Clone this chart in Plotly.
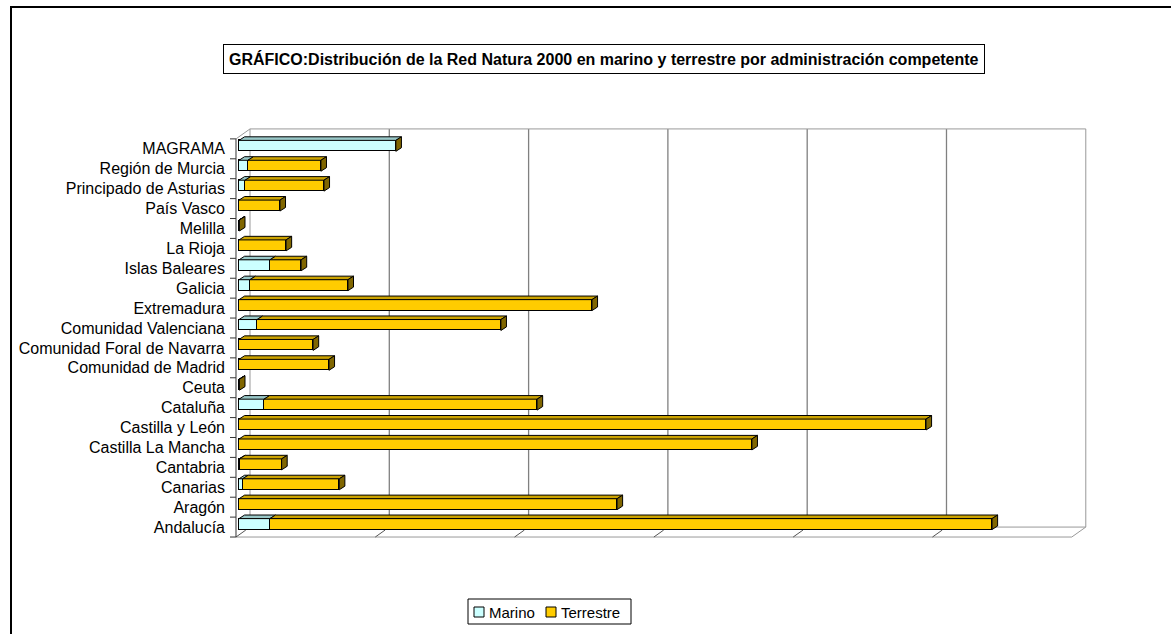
import plotly.graph_objects as go

# ---------------- data (hectares) ----------------
categories = ["Andalucía", "Aragón", "Canarias", "Cantabria", "Castilla La Mancha",
              "Castilla y León", "Cataluña", "Ceuta", "Comunidad de Madrid",
              "Comunidad Foral de Navarra", "Comunidad Valenciana", "Extremadura",
              "Galicia", "Islas Baleares", "La Rioja", "Melilla", "País Vasco",
              "Principado de Asturias", "Región de Murcia", "MAGRAMA"]
marino = [111000, 0, 13000, 2000, 0, 0, 90000, 500, 0, 0,
          65000, 0, 39000, 111000, 0, 500, 0, 22000, 32000, 563000]
terrestre = [2592000, 1357000, 347000, 151000, 1841000, 2466000, 980000, 1000, 323000, 266000,
             875000, 1267000, 352000, 112000, 169000, 1000, 147000, 283000, 262000, 0]
series_names = ["Marino", "Terrestre"]
title_text = "GRÁFICO:Distribución de la Red Natura 2000 en marino y terrestre por administración competente"

# ---------------- style / geometry ----------------
W, H = 1171, 634
ML, MR, MT, MB = 230, 69, 115, 5
PW, PH = W - ML - MR, H - MT - MB
PX_PER_UNIT = 19.907
Y_TOP = 20.55
XR = [-32300, 3097700]
YR = [Y_TOP - PH / PX_PER_UNIT, Y_TOP]
STEP = 500000
NSTEP = 6
FRONT_X, BACK_X = -10800, 39500
FY0, FY1 = -0.65, 19.35
BY0, BY1 = FY0 + 0.5, FY1 + 0.5
BAR_W = 0.55
DX, DY = 20000, 0.18
FONT = "Arial, Liberation Sans, sans-serif"
C_MAR, C_TER = "#CCFFFF", "#FFCC00"
C_MAR_TOP, C_TER_TOP, C_SIDE = "#99C8C8", "#CCA300", "#806600"
GRID = "#808080"
FRAME = "#999999"
series_colors = [C_MAR, C_TER]


def px_to_paper_x(px):
    return (px - ML) / PW


def px_to_paper_y(py):
    return (H - MB - py) / PH


idx = list(range(len(categories)))

fig = go.Figure()
fig.add_trace(go.Bar(y=idx, x=marino, orientation="h", name=series_names[0], width=BAR_W,
                     marker=dict(color=C_MAR, line=dict(color="black", width=1)),
                     showlegend=False))
fig.add_trace(go.Bar(y=idx, x=terrestre, orientation="h", name=series_names[1], width=BAR_W,
                     marker=dict(color=C_TER, line=dict(color="black", width=1)),
                     showlegend=False))


def top_face(a, b, i):
    yt = i + BAR_W / 2
    return [a, a + DX, b + DX, b, a, None], [yt, yt + DY, yt + DY, yt, yt, None]


mx, my, tx, ty, sx, sy = [], [], [], [], [], []
for i in idx:
    m, t = marino[i], terrestre[i]
    if m > 0:
        xs, ys = top_face(0, m, i)
        mx += xs; my += ys
    if t > 0:
        xs, ys = top_face(m, m + t, i)
        tx += xs; ty += ys
    e = m + t
    yb, yt = i - BAR_W / 2, i + BAR_W / 2
    sx += [e, e, e + DX, e + DX, e, None]
    sy += [yb, yt, yt + DY, yb + DY, yb, None]

for xs, ys, col in [(mx, my, C_MAR_TOP), (tx, ty, C_TER_TOP), (sx, sy, C_SIDE)]:
    fig.add_trace(go.Scatter(x=xs, y=ys, mode="lines", fill="toself", fillcolor=col,
                             line=dict(color="black", width=1), showlegend=False,
                             hoverinfo="skip"))

shapes = []


def line(x0, y0, x1, y1, color=FRAME, width=1):
    shapes.append(dict(type="line", xref="x", yref="y", x0=x0, y0=y0, x1=x1, y1=y1,
                       line=dict(color=color, width=width), layer="below"))


# back wall gridlines & edges
for k in range(NSTEP + 1):
    line(BACK_X + k * STEP, BY0, BACK_X + k * STEP, BY1,
         color=GRID if 0 < k < NSTEP else FRAME, width=1.3 if 0 < k < NSTEP else 1)
line(BACK_X, BY1, BACK_X + NSTEP * STEP, BY1)
# floor
line(BACK_X, BY0, BACK_X + NSTEP * STEP, BY0)
line(FRONT_X, FY0, FRONT_X + NSTEP * STEP, FY0)
for k in range(NSTEP):
    line(FRONT_X + k * STEP, FY0, FRONT_X + k * STEP + 0.7 * (BACK_X - FRONT_X),
         FY0 + 0.7 * (BY0 - FY0), color="#555555")
line(FRONT_X + NSTEP * STEP, FY0, BACK_X + NSTEP * STEP, BY0)
# left wall
line(FRONT_X, FY0, FRONT_X, FY1, color="#333333")
line(FRONT_X, FY1, BACK_X, BY1)
# category tick marks
for j in range(len(categories) + 1):
    line(XR[0], FY0 + j, FRONT_X, FY0 + j, color="#333333")

# outer chart border
shapes.append(dict(type="rect", xref="paper", yref="paper",
                   x0=px_to_paper_x(11), y0=px_to_paper_y(700),
                   x1=px_to_paper_x(1250), y1=px_to_paper_y(7),
                   line=dict(color="black", width=2), layer="above"))

annotations = [dict(text="<b>" + title_text + "</b>", xref="paper", yref="paper",
                    x=px_to_paper_x(604), y=px_to_paper_y(59), xanchor="center",
                    yanchor="middle", showarrow=False, font=dict(size=16, family=FONT),
                    bordercolor="black", borderwidth=1, borderpad=5, bgcolor="white")]

# legend box (Excel style: small square swatch followed by the series name)
shapes.append(dict(type="rect", xref="paper", yref="paper",
                   x0=px_to_paper_x(468), y0=px_to_paper_y(624),
                   x1=px_to_paper_x(631), y1=px_to_paper_y(599),
                   line=dict(color="black", width=1), fillcolor="white", layer="above"))
legend_sw_px = [474, 546]
legend_tx_px = [487, 559]
for name, col, sxp, txp in zip(series_names, series_colors, legend_sw_px, legend_tx_px):
    shapes.append(dict(type="rect", xref="paper", yref="paper",
                       x0=px_to_paper_x(sxp), y0=px_to_paper_y(617),
                       x1=px_to_paper_x(sxp + 10), y1=px_to_paper_y(607),
                       line=dict(color="black", width=1), fillcolor=col, layer="above"))
    annotations.append(dict(text=name, xref="paper", yref="paper",
                            x=px_to_paper_x(txp), y=px_to_paper_y(612), xanchor="left",
                            yanchor="middle", showarrow=False,
                            font=dict(size=15, family=FONT, color="black")))

fig.update_layout(
    width=W, height=H, margin=dict(l=ML, r=MR, t=MT, b=MB),
    paper_bgcolor="white", plot_bgcolor="white",
    barmode="stack", bargap=0,
    font=dict(family=FONT, color="black", size=15),
    shapes=shapes,
    xaxis=dict(range=XR, showgrid=False, zeroline=False, showline=False,
               showticklabels=False, ticks="", fixedrange=True),
    yaxis=dict(range=YR, showgrid=False, zeroline=False, showline=False, ticks="",
               tickmode="array", tickvals=[i - 0.15 for i in idx], ticktext=categories,
               tickfont=dict(size=16, family=FONT, color="black"),
               ticklabelstandoff=4, fixedrange=True),
    annotations=annotations,
    showlegend=False,
)

fig.write_html("out.html", config={"displayModeBar": False},
               post_script="document.body.style.margin='0';")
